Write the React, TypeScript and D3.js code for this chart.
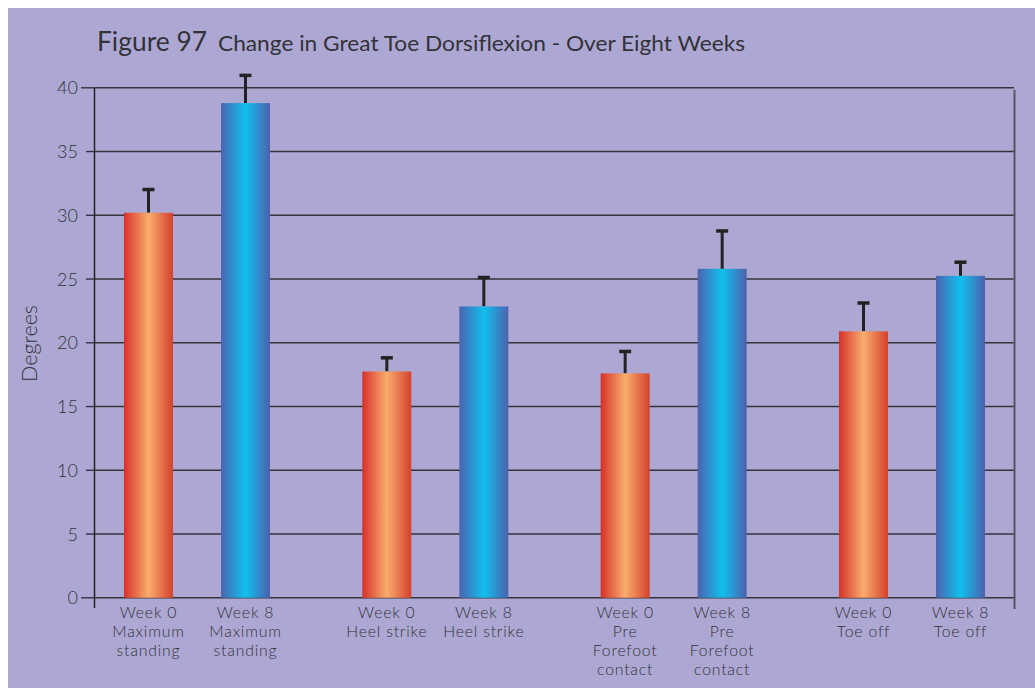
import React from "react";
import * as d3 from "d3";

const groups = ["Maximum standing", "Heel strike", "Pre Forefoot contact", "Toe off"];
const groupLines = [["Maximum", "standing"], ["Heel strike"], ["Pre", "Forefoot", "contact"], ["Toe off"]];
const weeks = ["Week 0", "Week 8"];
const week0 = [30.2, 17.75, 17.6, 20.9];
const week8 = [38.8, 22.85, 25.8, 25.25];
const err0 = [1.9, 1.15, 1.8, 2.3];
const err8 = [2.25, 2.35, 3.05, 1.15];
const yTicks = [0, 5, 10, 15, 20, 25, 30, 35, 40];

const W = 1027;
const H = 680;
const FONT = "Lato, 'Open Sans', sans-serif";
const TEXT = "#333238";

export default function App() {
  const left = 95;
  const right = 1014;
  const y = d3.scaleLinear().domain([0, 40]).range([597.8, 87.8]);
  const x0 = d3.scalePoint<string>().domain(groups).range([left, right]).padding(0.428);
  const x1 = d3.scaleBand<string>().domain(weeks).range([-73, 73]).paddingInner(0.495);
  const bw = x1.bandwidth();

  const bars = groups.flatMap((g, i) => [
    { g, w: weeks[0], v: week0[i], e: err0[i], grad: "url(#gradRed)" },
    { g, w: weeks[1], v: week8[i], e: err8[i], grad: "url(#gradBlue)" },
  ]);

  return (
    <svg
      width={W}
      height={H}
      style={{ position: "absolute", left: 8, top: 8, display: "block" }}
    >
      <defs>
        <linearGradient id="gradRed" x1="0" x2="1" y1="0" y2="0">
          <stop offset="0" stopColor="#D6312A" />
          <stop offset="0.5" stopColor="#F9AD6D" />
          <stop offset="1" stopColor="#D5402D" />
        </linearGradient>
        <linearGradient id="gradBlue" x1="0" x2="1" y1="0" y2="0">
          <stop offset="0" stopColor="#4B63AF" />
          <stop offset="0.5" stopColor="#10C0EF" />
          <stop offset="1" stopColor="#4C61AD" />
        </linearGradient>
      </defs>
      <rect x={0} y={0} width={W} height={H} fill="#ADA8D3" />
      <g transform="translate(-8,-8)">
        {/* title */}
        <text x={97} y={51} fontFamily={FONT} fill={TEXT} fontSize={26} textLength={110} lengthAdjust="spacingAndGlyphs">
          Figure 97
        </text>
        <text x={218} y={51} fontFamily={FONT} fill={TEXT} fontSize={21} textLength={527} lengthAdjust="spacingAndGlyphs">
          Change in Great Toe Dorsiflexion - Over Eight Weeks
        </text>

        {/* gridlines */}
        {yTicks.map((t) => (
          <line
            key={"g" + t}
            x1={left}
            x2={right}
            y1={y(t)}
            y2={y(t)}
            stroke="#35343d"
            strokeWidth={1.6}
          />
        ))}
        {/* y ticks */}
        {yTicks.map((t) => (
          <line
            key={"t" + t}
            x1={t === 0 || t === 40 ? 81 : 86}
            x2={left}
            y1={y(t)}
            y2={y(t)}
            stroke="#35343d"
            strokeWidth={1.4}
          />
        ))}
        {yTicks.map((t) => (
          <text
            key={"l" + t}
            x={78}
            y={y(t)}
            dy="0.36em"
            textAnchor="end"
            fontFamily={FONT}
            fontWeight={300}
            fontSize={18}
            fill={TEXT}
          >
            {t}
          </text>
        ))}
        {/* axes */}
        <line x1={94.5} x2={94.5} y1={y(40)} y2={608} stroke="#222" strokeWidth={1.5} />
        <line x1={1014.5} x2={1014.5} y1={y(40) + 2} y2={609} stroke="#55545e" strokeWidth={2} />

        {/* y label */}
        <text
          transform={`translate(37,${343.5}) rotate(-90)`}
          textAnchor="middle"
          fontFamily={FONT}
          fontWeight={300}
          fontSize={21}
          textLength={77}
          lengthAdjust="spacingAndGlyphs"
          fill={TEXT}
        >
          Degrees
        </text>

        {/* bars */}
        {bars.map((b, i) => {
          const cx = (x0(b.g) as number) + (x1(b.w) as number);
          const mid = cx + bw / 2;
          const top = y(b.v);
          const et = y(b.v + b.e);
          return (
            <g key={"b" + i}>
              <line x1={mid} x2={mid} y1={top} y2={et} stroke="#222" strokeWidth={3} />
              <line x1={mid - 6} x2={mid + 6} y1={et + 1} y2={et + 1} stroke="#222" strokeWidth={3.5} />
              <rect x={cx} y={top} width={bw} height={y(0) - top} fill={b.grad} />
            </g>
          );
        })}

        {/* x labels */}
        {bars.map((b, i) => {
          const gi = groups.indexOf(b.g);
          const mid = (x0(b.g) as number) + (x1(b.w) as number) + bw / 2;
          const lines = [b.w, ...groupLines[gi]];
          return (
            <text
              key={"x" + i}
              x={mid}
              y={617.5}
              textAnchor="middle"
              fontFamily={FONT}
              fontWeight={300}
              fontSize={15.8}
              letterSpacing={0.8}
              fill={TEXT}
            >
              {lines.map((ln, j) => (
                <tspan key={j} x={mid} dy={j === 0 ? 0 : 19}>
                  {ln}
                </tspan>
              ))}
            </text>
          );
        })}
      </g>
    </svg>
  );
}
